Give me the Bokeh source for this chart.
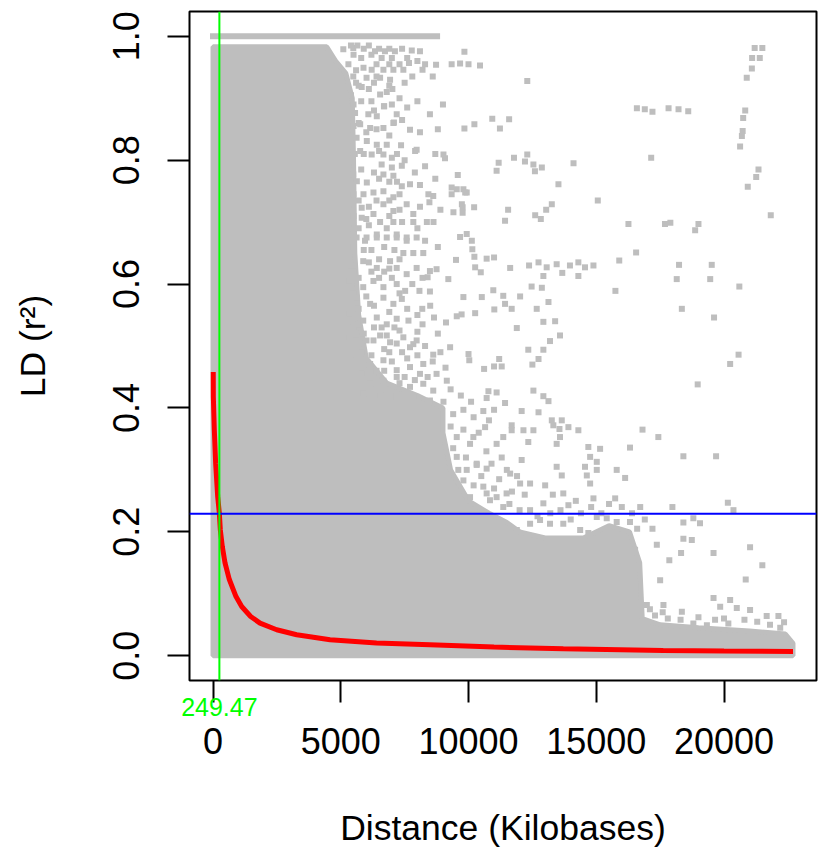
from bokeh.plotting import figure
from bokeh.models import Range1d, FixedTicker, PrintfTickFormatter, Span, LinearAxis
from bokeh.embed import file_html
from bokeh.resources import INLINE

GRAY = "#BEBEBE"

x_ticks = [0, 5000, 10000, 15000, 20000]
y_ticks = [0.0, 0.2, 0.4, 0.6, 0.8, 1.0]

# LD threshold and its distance
ld_threshold = 0.229
decay_distance = 249.47

# dense body of the r^2 cloud (outline of the solid area)
body_x = [0, 4450, 4800, 5200, 5450, 5500, 5550, 5700, 6000, 6800, 8000, 9000, 9000, 9300,
          10000, 10800, 11500, 12000, 13000, 14500, 15500, 16300, 16700, 16800, 17500,
          19000, 21000, 22400, 22700, 22700, 0]
body_y = [0.983, 0.983, 0.96, 0.94, 0.90, 0.80, 0.65, 0.55, 0.48, 0.44, 0.42, 0.40, 0.36, 0.30,
          0.25, 0.23, 0.215, 0.20, 0.19, 0.19, 0.21, 0.20, 0.15, 0.06, 0.05,
          0.045, 0.04, 0.035, 0.02, 0.0, 0.0]

# pairs with r^2 = 1
band_x = [0, 8770]
band_y = [1.0, 1.0]

# scattered pairs outside the dense body
pts = [
    (9840,0.975),(21200,0.981),(21500,0.981),(21100,0.965),(21400,0.965),(21090,0.948),(20890,0.933),(12300,0.928),
    (7670,0.957),(8300,0.955),(8200,0.946),(8730,0.954),(9340,0.955),(9670,0.956),(10000,0.955),(10450,0.953),
    (16590,0.884),(16900,0.882),(17200,0.878),(17830,0.884),(18220,0.882),(18600,0.879),(20830,0.88),(20750,0.868),
    (20730,0.847),(20700,0.839),(20630,0.822),(8490,0.874),(7190,0.874),(6690,0.887),(7020,0.915),(5820,0.918),
    (7710,0.849),(7080,0.861),(9840,0.851),(10230,0.858),(10930,0.867),(11590,0.866),(11230,0.851),(7360,0.824),
    (7910,0.815),(9020,0.809),(9080,0.803),(11180,0.796),(11100,0.783),(11780,0.804),(12300,0.809),(12210,0.798),
    (12540,0.793),(12870,0.788),(12600,0.782),(14110,0.795),(17150,0.804),(21350,0.785),(21260,0.773),(20930,0.757),
    (13520,0.761),(15060,0.735),(9580,0.776),(9340,0.756),(9800,0.753),(9930,0.748),(9340,0.745),(8620,0.742),
    (8470,0.732),(10220,0.724),(9770,0.724),(9770,0.715),(9410,0.716),(11550,0.720),(11430,0.702),(13260,0.729),
    (13040,0.720),(12610,0.711),(12830,0.705),(16260,0.697),(17690,0.697),(17900,0.699),(19000,0.697),(18870,0.687),
    (21830,0.711),(16560,0.651),(15900,0.638),(18240,0.631),(19520,0.631),(18150,0.608),(19460,0.608),(20600,0.596),
    (15750,0.589),(18350,0.560),(19610,0.546),(9930,0.681),(10130,0.670),(9670,0.676),(10150,0.656),(9510,0.639),
    (10230,0.644),(10710,0.641),(11000,0.643),(10260,0.627),(10480,0.619),(11630,0.626),(12370,0.630),(12740,0.635),
    (13060,0.627),(13450,0.632),(13970,0.630),(14300,0.635),(14560,0.627),(14890,0.630),(12930,0.613),(13670,0.618),
    (14300,0.613),(12470,0.596),(12870,0.594),(13130,0.571),(11360,0.581),(11430,0.568),(11690,0.560),(12020,0.580),
    (10970,0.590),(9800,0.579),(10520,0.579),(11010,0.559),(12670,0.560),(10260,0.553),(9540,0.548),(9730,0.551),
    (9120,0.538),(8650,0.546),(12930,0.539),(13390,0.540),(11890,0.529),(13580,0.517),(13190,0.508),(8000,0.523),
    (9280,0.498),(8400,0.611),(8490,0.588),(8080,0.589),(9210,0.608),(8190,0.560),
    (5100,0.979),(5490,0.981),(6340,0.976),(6730,0.976),(7120,0.976),(7780,0.977),(8100,0.976),(5890,0.949),(6210,0.946),
    (6670,0.946),(7060,0.946),(7450,0.946),(5490,0.935),(6010,0.933),(6540,0.933),(6930,0.930),
    (6540,0.906),(6700,0.887),(5560,0.876),(6080,0.874),(6410,0.871),
    (5760,0.858),(6150,0.852),(6670,0.852),(7060,0.86),(5620,0.836),(6020,0.831),(6410,0.825),(5760,0.815),(6210,0.809),
    (6670,0.809),(7000,0.804),(7970,0.817),(6600,0.793),(7000,0.788),(6670,0.777),(7060,0.775),(7390,0.791),
    (5630,0.766),(6020,0.764),(5490,0.777),(7390,0.758),(7710,0.761),(8100,0.760),(5890,0.745),(6280,0.748),(6670,0.75),
    (7060,0.74),(6670,0.729),(7060,0.718),(7580,0.729),(7840,0.713),(8430,0.745),(9540,0.753),(9870,0.748),(9740,0.729),
    (5820,0.707),(6280,0.713),(6540,0.70),(7060,0.70),(7840,0.70),(8370,0.70),(8630,0.70),(5820,0.723),(5490,0.68),
    (5950,0.67),(6410,0.68),(7190,0.68),(7580,0.67),
    (5400,0.985),(5650,0.985),(5900,0.98),(6100,0.985),(6500,0.98),(6900,0.98),(7400,0.98),
    (5300,0.955),(5600,0.945),(6400,0.955),(6900,0.955),(7300,0.955),
    (5700,0.92),(6100,0.915),(6300,0.925),(6900,0.92),(5400,0.905),(5800,0.895),(6200,0.895),(7300,0.9),
    (5700,0.86),(6400,0.85),(6900,0.84),(5400,0.84),(5900,0.81),(6500,0.815),(7200,0.81),
    (5800,0.785),(6300,0.78),(6900,0.765),(5400,0.76),(5700,0.735),(6100,0.725),(6400,0.735),(6900,0.735),(7300,0.745),
    (5700,0.69),(6100,0.695),(6800,0.69),(7400,0.70),(8000,0.69),(5400,0.655),(6200,0.655),(6700,0.66),(7100,0.655),
    (5400,0.63),(6100,0.635),(6700,0.62),(5700,0.61),(6500,0.61),(7000,0.61),(5500,0.585),(6000,0.58),(7300,0.585),
    (5500,0.53),(6300,0.53),(7100,0.53),(5900,0.52),(6700,0.495),(7400,0.49),(8300,0.50),(8100,0.455),(8600,0.475),
    (5900,0.46),(6400,0.46),(7000,0.475),(7500,0.45),
    (5500,0.97),(5800,0.965),(6200,0.97),(6600,0.965),(7000,0.965),(7600,0.965),(8000,0.96),
    (5600,0.925),(6400,0.935),(6800,0.91),(7500,0.925),(7800,0.935),(8600,0.935),
    (5500,0.89),(6300,0.88),(7000,0.89),(7600,0.885),(8000,0.895),(9000,0.89),
    (5500,0.855),(6000,0.845),(7400,0.865),(8100,0.845),(8800,0.85),
    (5550,0.81),(6800,0.825),(7500,0.8),(8300,0.79),(8700,0.81),
    (5500,0.745),(6500,0.77),(7200,0.765),(7900,0.78),(8700,0.77),
    (5500,0.71),(6000,0.705),(6900,0.71),(7300,0.72),(8100,0.725),(8900,0.72),
    (5500,0.66),(5900,0.655),(6500,0.64),(7300,0.64),(8300,0.67),(8800,0.66),
    (5500,0.62),(6200,0.62),(6900,0.625),(7800,0.60),(8200,0.61),
    (5700,0.56),(6300,0.565),(6900,0.555),(7600,0.56),(8000,0.55),(8500,0.565),
    (5700,0.535),(6600,0.53),(7300,0.525),(8200,0.535),(8800,0.52),
    (5800,0.49),(6200,0.485),(6900,0.49),(7600,0.48),(8000,0.485),(8900,0.49),
    (5800,0.455),(6700,0.46),(7300,0.44),(7900,0.445),(8400,0.45),(9100,0.465),
    (5620,0.675),(6010,0.675),(6410,0.675),(6800,0.675),(7190,0.675),(7580,0.675),(7970,0.675),
    (7450,0.65),(7840,0.65),(8230,0.65),(5880,0.637),(6410,0.626),(6930,0.637),
    (7190,0.626),(7580,0.616),(7970,0.626),(8490,0.621),(8750,0.624),
    (5360,0.605),(5880,0.595),(6280,0.605),(6670,0.595),(7190,0.600),(7520,0.589),
    (5620,0.578),(6150,0.568),(6670,0.578),(7060,0.568),(7390,0.576),
    (5360,0.552),(5880,0.541),(6410,0.546),(6800,0.535),(7190,0.544),(7650,0.541),
    (5620,0.519),(6010,0.509),(6540,0.517),(6930,0.506),(7450,0.514),(7840,0.503),
    (5360,0.514),(5750,0.504),(6280,0.509),(6800,0.517),(7190,0.504),(7710,0.498),(7970,0.509),
    (5620,0.477),(6150,0.471),(6670,0.477),(7190,0.461),(7710,0.466),(8230,0.471),(8750,0.455),(9150,0.444),
    (5620,0.45),(6150,0.439),(6670,0.444),(7190,0.45),(7710,0.434),(8230,0.439),(8620,0.428),
    (5880,0.423),(6540,0.42),(7190,0.418),(7840,0.418),(8490,0.412),(9020,0.41),
    (9540,0.353),(10060,0.342),(9540,0.321),(10320,0.31),(9800,0.283),(10580,0.273),(10060,0.256),(10840,0.251),(11360,0.24),
    (9300,0.43),(9700,0.42),(10100,0.41),(9400,0.39),(10200,0.385),(10800,0.38),(9300,0.37),(9800,0.365),(10400,0.36),
    (9400,0.335),(10700,0.33),(11300,0.32),(9900,0.32),(10900,0.31),(11500,0.30),(9600,0.30),(10500,0.29),(11200,0.285),
    (11900,0.29),(10200,0.275),(11000,0.27),(11700,0.265),(12200,0.26),(11600,0.245),(12000,0.235),
    (13000,0.275),(13300,0.26),(13600,0.235),(14200,0.25),(14400,0.23),(14800,0.24),(15200,0.23),(15500,0.245),
    (13200,0.23),(12700,0.225),(14000,0.22),(16400,0.23),(16900,0.22),(17200,0.205),(16600,0.205),
    (20570,0.486),(20240,0.471),(18970,0.438),(12340,0.494),(12930,0.494),(12740,0.479),(12500,0.470),
    (11200,0.479),(11300,0.467),(11000,0.467),(10610,0.463),(10000,0.487),(10030,0.477),(8620,0.486),
    (12540,0.428),(12930,0.419),(13130,0.411),(10780,0.427),(11100,0.425),(10710,0.416),(11430,0.408),
    (9800,0.397),(10580,0.395),(11000,0.397),(12080,0.395),(12740,0.393),(13260,0.38),(13650,0.38),
    (13320,0.372),(13560,0.366),(13910,0.369),(14300,0.364),(13580,0.353),(13450,0.342),
    (11690,0.372),(11690,0.364),(12150,0.364),(12540,0.364),(11360,0.353),(11100,0.342),(10650,0.369),
    (10190,0.353),(12340,0.345),(16810,0.365),(17430,0.353),(16320,0.336),(18410,0.322),(19690,0.322),
    (14690,0.337),(15150,0.334),(14760,0.321),(15020,0.313),(14560,0.305),(15020,0.30),(14630,0.291),
    (15800,0.30),(16130,0.287),(13450,0.305),(13650,0.291),(14760,0.278),(13710,0.262),(13910,0.243),
    (14890,0.254),(15740,0.254),(16000,0.240),(16720,0.240),(17980,0.240),(20150,0.247),(20370,0.235),
    (12930,0.246),(12410,0.235),(12020,0.278),(12410,0.278),(11630,0.294),(12080,0.316),
    (10710,0.262),(11100,0.256),(11490,0.262),(9930,0.30),(10320,0.308),(10710,0.302),
    (18410,0.215),(18800,0.222),(19060,0.214),(18410,0.189),(18740,0.187),(17370,0.179),(18320,0.166),(19590,0.166),
    (21020,0.175),(17860,0.154),(21500,0.146),(17500,0.122),(20850,0.123),(16130,0.171),(16520,0.171),
    (15800,0.216),(16320,0.216),(15020,0.224),(15410,0.222),(14370,0.203),(14690,0.198),
    (13710,0.213),(13190,0.213),(12800,0.219),(12410,0.213),(11630,0.203),(11890,0.203),(10970,0.206),(10320,0.216),(10060,0.219),
    (19590,0.093),(19850,0.079),(20240,0.090),(20500,0.077),(21020,0.074),(21670,0.064),(22130,0.064),(22350,0.054),
    (18800,0.052),(19330,0.049),(19650,0.058),(20170,0.052),(18350,0.071),(16980,0.082),(17630,0.082),
    (17300,0.065),(17800,0.06),(18300,0.058),(19000,0.062),(20000,0.06),(20800,0.058),(21300,0.055),(21800,0.05),
    (22200,0.045),(17100,0.075),(17600,0.07),
]
scatter_x = [a for a, b in pts]
scatter_y = [b for a, b in pts]

# fitted decay curve
curve_x = [10, 13, 52, 104, 183, 248, 287, 365, 470, 639, 900, 1122, 1474, 1840, 2492,
           3275, 4580, 6400, 8490, 11000, 13710, 17620, 20000, 22700]
curve_y = [0.458, 0.418, 0.364, 0.310, 0.257, 0.230, 0.203, 0.176, 0.150, 0.123, 0.0955,
           0.0794, 0.0634, 0.0526, 0.0419, 0.0338, 0.0258, 0.0204, 0.0177, 0.014, 0.0113,
           0.0086, 0.0078, 0.007]

FONT = "Liberation Sans"

p = figure(width=819, height=851, x_range=Range1d(-920, 23620), y_range=Range1d(-0.04, 1.04),
           output_backend="svg", toolbar_location=None,
           min_border_left=189, min_border_right=3, min_border_top=11, min_border_bottom=171)
p.background_fill_color = "white"
p.border_fill_color = "white"
p.grid.visible = False
p.outline_line_color = "black"
p.outline_line_width = 2
p.outline_line_alpha = 1.0

# inner bottom axis: the tick marks (as minor ticks) and the green decay-distance label
xa = p.xaxis[0]
xa.ticker = FixedTicker(ticks=[decay_distance], minor_ticks=x_ticks)
xa.formatter = PrintfTickFormatter(format="%.2f")
xa.axis_line_color = None
xa.major_tick_line_color = None
xa.major_tick_out = 0
xa.major_tick_in = 0
xa.minor_tick_out = 22
xa.minor_tick_in = 0
xa.minor_tick_line_width = 2
xa.minor_tick_line_color = "black"
xa.major_label_text_font = FONT
xa.major_label_text_font_size = "25px"
xa.major_label_text_color = "#00FF00"
xa.major_label_standoff = -5

# outer bottom axis: the numeric tick labels and title
xb = LinearAxis(ticker=FixedTicker(ticks=x_ticks), formatter=PrintfTickFormatter(format="%d"))
xb.axis_line_color = None
xb.major_tick_line_color = None
xb.major_tick_out = 0
xb.major_tick_in = 0
xb.minor_tick_line_color = None
xb.major_label_text_font = FONT
xb.major_label_text_font_size = "36px"
xb.major_label_text_color = "black"
xb.major_label_standoff = 9
xb.axis_label = "Distance (Kilobases)"
xb.axis_label_text_font = FONT
xb.axis_label_text_font_size = "35.5px"
xb.axis_label_text_font_style = "normal"
xb.axis_label_text_color = "black"
xb.axis_label_standoff = 51
p.add_layout(xb, "below")

ya = p.yaxis[0]
ya.ticker = FixedTicker(ticks=y_ticks)
ya.formatter = PrintfTickFormatter(format="%.1f")
ya.axis_line_color = None
ya.major_tick_out = 22
ya.major_tick_in = 0
ya.major_tick_line_width = 2
ya.major_tick_line_color = "black"
ya.minor_tick_line_color = None
ya.major_label_orientation = "vertical"
ya.major_label_text_font = FONT
ya.major_label_text_font_size = "36px"
ya.major_label_text_color = "black"
ya.major_label_standoff = 28
ya.axis_label = "LD (r²)"
ya.axis_label_text_font = FONT
ya.axis_label_text_font_size = "35.5px"
ya.axis_label_text_font_style = "normal"
ya.axis_label_text_color = "black"
ya.axis_label_standoff = 58

p.patch(body_x, body_y, fill_color=GRAY, line_color=GRAY, line_width=5)
p.line(band_x, band_y, line_color=GRAY, line_width=6, line_cap="square")
p.scatter(scatter_x, scatter_y, marker="square", size=6, fill_color=GRAY, line_color=None)
p.line(curve_x, curve_y, line_color="#FF0000", line_width=5)

p.add_layout(Span(location=ld_threshold, dimension="width", line_color="#0000FF", line_width=2))
p.add_layout(Span(location=decay_distance, dimension="height", line_color="#00FF00", line_width=2))

open("out.html", "w").write(file_html(p, INLINE))
